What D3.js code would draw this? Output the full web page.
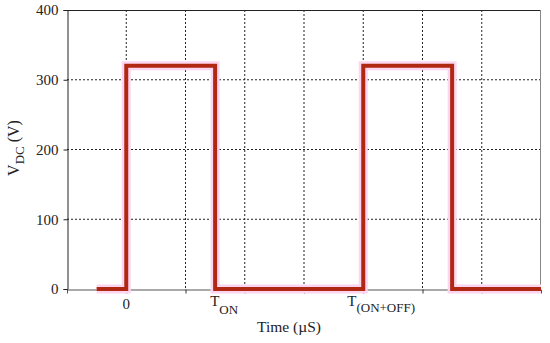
<!DOCTYPE html>
<html><head><meta charset="utf-8">
<script src="https://cdn.jsdelivr.net/npm/d3@7"></script>
<style>body{margin:0;background:#fff}svg{display:block}text{font-family:"Liberation Serif","Times New Roman",serif;fill:#222}</style>
</head><body><svg id="c" width="550" height="343"></svg>
<script>
// Data
const stepTimes = [0.5, 1.0, 1.0, 2.5, 2.5, 5.0, 5.0, 6.5, 6.5, 8.0];
const stepVolts = [0, 0, 320, 320, 0, 0, 320, 320, 0, 0];
const yTicks = [0, 100, 200, 300, 400];
const xGrid = [1, 2, 3, 4, 5, 6, 7];
const xLabelPos = [1, 2.5, 5];
const xLabelMain = ["0", "T", "T"];
const xLabelSub = ["", "ON", "(ON+OFF)"];

const svg = d3.select("#c");
const L = 67, R = 541, T = 10, B = 289;
const x = d3.scaleLinear().domain([0, 8]).range([L, R]);
const y = d3.scaleLinear().domain([0, 400]).range([B, T]);

// grid
svg.append("g").selectAll("line").data(yTicks.filter(d => d > 0 && d < 400)).join("line")
  .attr("x1", L).attr("x2", R).attr("y1", d => y(d)).attr("y2", d => y(d))
  .attr("stroke", "#222").attr("stroke-width", 1).attr("stroke-dasharray", "2,2");
svg.append("g").selectAll("line").data(xGrid).join("line")
  .attr("x1", d => x(d)).attr("x2", d => x(d)).attr("y1", T).attr("y2", B)
  .attr("stroke", "#222").attr("stroke-width", 1).attr("stroke-dasharray", "2,2");

// frame
svg.append("line").attr("x1", L).attr("x2", R).attr("y1", T + 0.5).attr("y2", T + 0.5).attr("stroke", "#222");
svg.append("line").attr("x1", R - 0.5).attr("x2", R - 0.5).attr("y1", T).attr("y2", B).attr("stroke", "#888");

// axes
const yAxis = d3.axisLeft(y).tickValues(yTicks).tickSize(4).tickPadding(5).tickFormat(d3.format("d"));
const gy = svg.append("g").attr("transform", `translate(${L + 0.5},0)`).call(yAxis);
gy.select(".domain").attr("stroke", "#222");
gy.selectAll(".tick line").attr("stroke", "#222");
gy.selectAll("text").style("font-size", "15px").style("font-family", "Liberation Serif").attr("fill", "#222");

const xAxis = d3.axisBottom(x).tickValues(xGrid).tickSize(4).tickFormat("");
const gx = svg.append("g").attr("transform", `translate(0,${B + 0.5})`).call(xAxis);
gx.select(".domain").attr("stroke", "#555");
gx.selectAll(".tick line").attr("stroke", "#333");

// step signal
const pts = stepTimes.map((t, i) => [t, stepVolts[i]]);
const line = d3.line().x(d => x(d[0])).y(d => y(d[1]));
svg.append("path").attr("d", line(pts)).attr("fill", "none")
  .attr("stroke", "#fcd6f0").attr("stroke-width", 9).attr("stroke-linejoin", "miter");
svg.append("path").attr("d", line(pts)).attr("fill", "none")
  .attr("stroke", "#b02812").attr("stroke-width", 4).attr("stroke-linejoin", "miter");

// x labels
const offs = [0, -5, -16];
xLabelPos.forEach((p, i) => {
  const t = svg.append("text").attr("x", x(p) + offs[i]).attr("y", 309)
    .attr("text-anchor", i === 0 ? "middle" : "start").style("font-size", "15px");
  t.append("tspan").text(xLabelMain[i]).attr("dy", i === 0 ? 0 : -3);
  if (xLabelSub[i]) t.append("tspan").text(xLabelSub[i]).attr("dy", i === 1 ? 8 : 6).style("font-size", "13px");
});

svg.append("text").attr("x", 289).attr("y", 332).attr("text-anchor", "middle")
  .style("font-size", "15.5px").text("Time (µS)");

const yl = svg.append("text").attr("transform", "translate(19,148) rotate(-90)")
  .attr("text-anchor", "middle").style("font-size", "16px");
yl.append("tspan").text("V");
yl.append("tspan").text("DC").attr("dy", 5).style("font-size", "13px");
yl.append("tspan").text(" (V)").attr("dy", -5);
</script></body></html>
